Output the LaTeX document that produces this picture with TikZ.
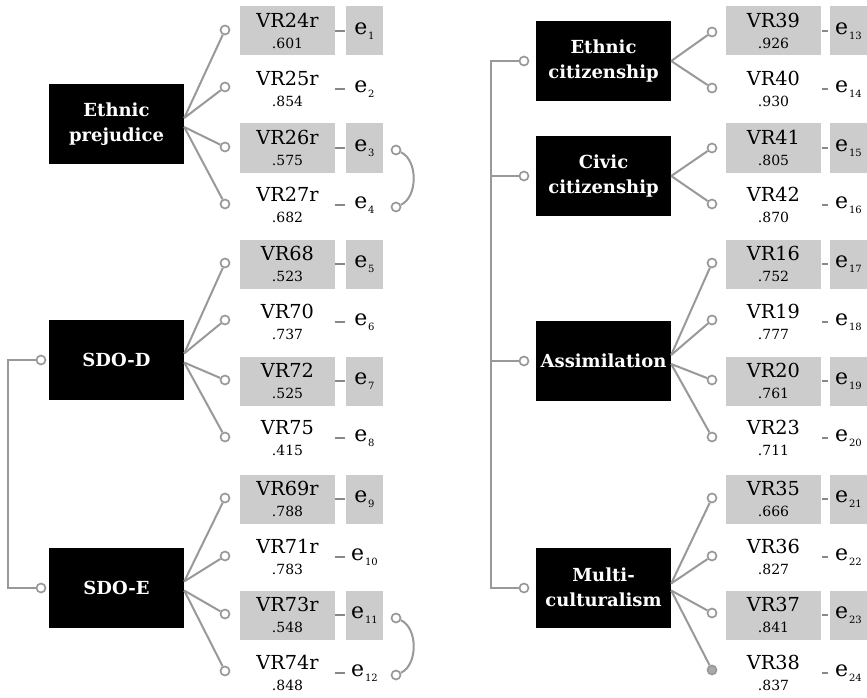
\documentclass[tikz,border=0pt]{standalone}
\usepackage{fontspec}
\setmainfont{DejaVu Serif}
\definecolor{boxg}{HTML}{CCCCCC}
\definecolor{lineg}{HTML}{999999}
\definecolor{dashg}{HTML}{888888}
\definecolor{dotfill}{HTML}{AAAAAA}
\newcommand{\elab}[1]{e\kern0.8pt\raisebox{-4.5pt}{\fontsize{10}{10}\selectfont #1}}
\newcommand{\vrl}[2]{#1\\{\fontsize{14}{14}\selectfont #2}}
\begin{document}
\begin{tikzpicture}[x=1pt,y=-1pt,
 latent/.style={rectangle,fill=black,text=white,font=\fontsize{18}{25}\selectfont\bfseries,minimum width=135pt,minimum height=80pt,inner sep=0pt,align=center},
 ind/.style={rectangle,minimum width=95pt,minimum height=49pt,inner sep=0pt,align=center,font=\fontsize{19.3}{21}\selectfont},
 indg/.style={ind,fill=boxg},
 err/.style={rectangle,minimum width=37pt,minimum height=49pt,inner sep=0pt,font=\fontsize{22}{24}\selectfont},
 errg/.style={err,fill=boxg},
 dot/.style={circle,draw=lineg,fill=white,line width=1.7pt,minimum size=9pt,inner sep=0pt},
 conn/.style={draw=lineg,line width=2pt},
 dashl/.style={draw=dashg,line width=2.6pt}]
\useasboundingbox (0,0) rectangle (867,698);
\fill[white] (0,0) rectangle (867,698);

% ---------- left latents
\node[latent] (EP) at (116.5,124) {Ethnic\\prejudice};
\node[latent] (SD) at (116.5,359.5) {SDO-D};
\node[latent] (SE) at (116.5,587.5) {SDO-E};
% ---------- right latents
\node[latent] (EC) at (603.5,61) {Ethnic\\citizenship};
\node[latent] (CC) at (603.5,176) {Civic\\citizenship};
\node[latent] (AS) at (603.5,361) {Assimilation};
\node[latent] (MC) at (603.5,587.5) {Multi-\\culturalism};

% ---------- left indicators
\node[indg] (v1)  at (287.5,31)  {\vrl{VR24r}{.601}};
\node[ind]  (v2)  at (287.5,89)  {\vrl{VR25r}{.854}};
\node[indg] (v3)  at (287.5,148) {\vrl{VR26r}{.575}};
\node[ind]  (v4)  at (287.5,205) {\vrl{VR27r}{.682}};
\node[indg] (v5)  at (287.5,264) {\vrl{VR68}{.523}};
\node[ind]  (v6)  at (287.5,322) {\vrl{VR70}{.737}};
\node[indg] (v7)  at (287.5,381) {\vrl{VR72}{.525}};
\node[ind]  (v8)  at (287.5,438) {\vrl{VR75}{.415}};
\node[indg] (v9)  at (287.5,499) {\vrl{VR69r}{.788}};
\node[ind]  (v10) at (287.5,557) {\vrl{VR71r}{.783}};
\node[indg] (v11) at (287.5,615) {\vrl{VR73r}{.548}};
\node[ind]  (v12) at (287.5,673) {\vrl{VR74r}{.848}};
% ---------- left errors
\node[errg] (e1)  at (364.5,31)  {\elab{1}};
\node[err]  (e2)  at (364.5,89)  {\elab{2}};
\node[errg] (e3)  at (364.5,148) {\elab{3}};
\node[err]  (e4)  at (364.5,205) {\elab{4}};
\node[errg] (e5)  at (364.5,264) {\elab{5}};
\node[err]  (e6)  at (364.5,322) {\elab{6}};
\node[errg] (e7)  at (364.5,381) {\elab{7}};
\node[err]  (e8)  at (364.5,438) {\elab{8}};
\node[errg] (e9)  at (364.5,499) {\elab{9}};
\node[err]  (e10) at (364.5,557) {\elab{10}};
\node[errg] (e11) at (364.5,615) {\elab{11}};
\node[err]  (e12) at (364.5,673) {\elab{12}};

% ---------- right indicators
\node[indg] (v13) at (773.5,31)  {\vrl{VR39}{.926}};
\node[ind]  (v14) at (773.5,89)  {\vrl{VR40}{.930}};
\node[indg] (v15) at (773.5,148) {\vrl{VR41}{.805}};
\node[ind]  (v16) at (773.5,205) {\vrl{VR42}{.870}};
\node[indg] (v17) at (773.5,264) {\vrl{VR16}{.752}};
\node[ind]  (v18) at (773.5,322) {\vrl{VR19}{.777}};
\node[indg] (v19) at (773.5,381) {\vrl{VR20}{.761}};
\node[ind]  (v20) at (773.5,438) {\vrl{VR23}{.711}};
\node[indg] (v21) at (773.5,499) {\vrl{VR35}{.666}};
\node[ind]  (v22) at (773.5,557) {\vrl{VR36}{.827}};
\node[indg] (v23) at (773.5,615) {\vrl{VR37}{.841}};
\node[ind]  (v24) at (773.5,673) {\vrl{VR38}{.837}};
% ---------- right errors
\node[errg] (e13) at (848.5,31)  {\elab{13}};
\node[err]  (e14) at (848.5,89)  {\elab{14}};
\node[errg] (e15) at (848.5,148) {\elab{15}};
\node[err]  (e16) at (848.5,205) {\elab{16}};
\node[errg] (e17) at (848.5,264) {\elab{17}};
\node[err]  (e18) at (848.5,322) {\elab{18}};
\node[errg] (e19) at (848.5,381) {\elab{19}};
\node[err]  (e20) at (848.5,438) {\elab{20}};
\node[errg] (e21) at (848.5,499) {\elab{21}};
\node[err]  (e22) at (848.5,557) {\elab{22}};
\node[errg] (e23) at (848.5,615) {\elab{23}};
\node[err]  (e24) at (848.5,673) {\elab{24}};

% ---------- dots (left)
\foreach \i/\y in {1/30,2/87,3/147,4/204,5/263,6/320,7/380,8/437,9/498,10/556,11/614,12/671}
  \node[dot] (d\i) at (225,\y) {};
% ---------- dots (right)
\foreach \i/\y in {13/32,14/88,15/148,16/204,17/263,18/320,19/380,20/437,21/498,22/556,23/613}
  \node[dot] (d\i) at (712,\y) {};
\node[dot,fill=dotfill] (d24) at (712,670) {};

% ---------- loadings
\draw[conn] ([yshift=6pt]EP.east) -- (d1);
\draw[conn] ([yshift=6pt]EP.east) -- (d2);
\draw[conn] ([yshift=-3pt]EP.east) -- (d3);
\draw[conn] ([yshift=-3pt]EP.east) -- (d4);
\draw[conn] ([yshift=6pt]SD.east) -- (d5);
\draw[conn] ([yshift=6pt]SD.east) -- (d6);
\draw[conn] ([yshift=-3pt]SD.east) -- (d7);
\draw[conn] ([yshift=-3pt]SD.east) -- (d8);
\draw[conn] ([yshift=6pt]SE.east) -- (d9);
\draw[conn] ([yshift=6pt]SE.east) -- (d10);
\draw[conn] ([yshift=-3pt]SE.east) -- (d11);
\draw[conn] ([yshift=-3pt]SE.east) -- (d12);
\draw[conn] (EC.east) -- (d13);
\draw[conn] (EC.east) -- (d14);
\draw[conn] (CC.east) -- (d15);
\draw[conn] (CC.east) -- (d16);
\draw[conn] ([yshift=6pt]AS.east) -- (d17);
\draw[conn] ([yshift=6pt]AS.east) -- (d18);
\draw[conn] ([yshift=-3pt]AS.east) -- (d19);
\draw[conn] ([yshift=-3pt]AS.east) -- (d20);
\draw[conn] ([yshift=4pt]MC.east) -- (d21);
\draw[conn] ([yshift=4pt]MC.east) -- (d22);
\draw[conn] ([yshift=-3pt]MC.east) -- (d23);
\draw[conn] ([yshift=-3pt]MC.east) -- (d24);

% ---------- error dashes
\foreach \i in {1,...,12}
  \draw[dashl] ([xshift=-0.5pt]v\i.east) -- ([xshift=-0.5pt]e\i.west);
\foreach \i in {13,...,24}
  \draw[dashl] ([xshift=1pt]v\i.east) -- ([xshift=-2pt]e\i.west);

% ---------- error covariances
\node[dot] (cva) at (396,150) {};
\node[dot] (cvb) at (396,207) {};
\node[dot] (cvc) at (396,618) {};
\node[dot] (cvd) at (396,675) {};
\draw[conn] (cva) .. controls +(22,10) and +(22,-10) .. (cvb);
\draw[conn] (cvc) .. controls +(22,10) and +(22,-10) .. (cvd);

% ---------- factor correlations
\node[dot] (lD) at (41,360) {};
\node[dot] (lE) at (41,588) {};
\coordinate (lb1) at (8,360);
\coordinate (lb2) at (8,588);
\draw[conn] (lD) -- (lb1) -- (lb2) -- (lE);

\node[dot] (rEC) at (524,61) {};
\node[dot] (rCC) at (524,176) {};
\node[dot] (rAS) at (524,361) {};
\node[dot] (rMC) at (524,588) {};
\coordinate (rb1) at (491,61);
\coordinate (rb2) at (491,176);
\coordinate (rb3) at (491,361);
\coordinate (rb4) at (491,588);
\draw[conn] (rEC) -- (rb1) -- (rb4) -- (rMC);
\draw[conn] (rCC) -- (rb2);
\draw[conn] (rAS) -- (rb3);
\end{tikzpicture}
\end{document}
